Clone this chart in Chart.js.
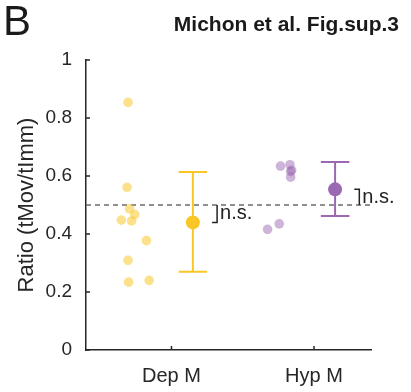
<!DOCTYPE html>
<html>
<head>
<meta charset="utf-8">
<script src="https://cdn.jsdelivr.net/npm/chart.js@4.4.1/dist/chart.umd.min.js"></script>
<style>
  body { margin: 0; background: #fff; }
  #wrap { width: 411px; height: 392px; }
</style>
</head>
<body>
<div id="wrap"><canvas id="myChart" width="411" height="392"></canvas></div>
<script>
// categories
var groups = ["Dep M", "Hyp M"];
var groupPos = [1, 2];

// single recordings (x = jitter around group position)
var depX = [0.695, 0.688, 0.706, 0.742, 0.648, 0.720, 0.824, 0.695, 0.699, 0.843];
var depY = [0.854, 0.561, 0.487, 0.467, 0.448, 0.445, 0.377, 0.309, 0.234, 0.240];
var hypX = [1.765, 1.831, 1.843, 1.836, 1.836, 1.674, 1.756];
var hypY = [0.634, 0.639, 0.620, 0.615, 0.596, 0.416, 0.435];

// group summary (mean +/- error)
var meanX = [1.15, 2.148];
var meanY = [0.440, 0.554];
var errLow = [0.270, 0.462];
var errHigh = [0.614, 0.648];

var refLine = 0.5;
var yTicks = [0, 0.2, 0.4, 0.6, 0.8, 1];
var sigText = ["n.s.", "n.s."];

var colDark = ["#F9C626", "#9B69B2"];
var colLight = ["rgba(250,200,45,0.55)", "rgba(155,105,178,0.5)"];

var capW = 0.1, brX = 0.17, brFoot = 0.035;

function pts(xs, ys) {
  return xs.map(function (x, i) { return { x: x, y: ys[i] }; });
}

function errBar(i) {
  var m = meanX[i];
  return [
    { x: m - capW, y: errHigh[i] }, { x: m + capW, y: errHigh[i] }, { x: m, y: null },
    { x: m, y: errHigh[i] }, { x: m, y: errLow[i] }, { x: m, y: null },
    { x: m - capW, y: errLow[i] }, { x: m + capW, y: errLow[i] }
  ];
}

function bracket(i) {
  var b = meanX[i] + brX;
  return [
    { x: b - brFoot, y: meanY[i] }, { x: b, y: meanY[i] }, { x: b, y: refLine }
  ];
}

var lineDs = function (data, color, width, dash) {
  return {
    type: "line", data: data, borderColor: color, borderWidth: width,
    borderDash: dash || [], pointRadius: 0, fill: false, spanGaps: false, tension: 0
  };
};

var extras = {
  id: "extras",
  afterDraw: function (chart) {
    var ctx = chart.ctx, xs = chart.scales.x, ys = chart.scales.y;
    var a = chart.chartArea;
    ctx.save();
    ctx.strokeStyle = "#262626";
    ctx.lineWidth = 1.5;
    ctx.beginPath();
    yTicks.forEach(function (v) {
      var p = ys.getPixelForValue(v);
      ctx.moveTo(a.left, p); ctx.lineTo(a.left + 4, p);
    });
    groupPos.forEach(function (v) {
      var p = xs.getPixelForValue(v);
      ctx.moveTo(p, a.bottom); ctx.lineTo(p, a.bottom - 4);
    });
    ctx.stroke();

    ctx.fillStyle = "#222";
    ctx.font = "20px 'Liberation Sans', Arial, sans-serif";
    ctx.textAlign = "left";
    ctx.textBaseline = "middle";
    sigText.forEach(function (t, i) {
      var px = xs.getPixelForValue(meanX[i] + brX) + 3;
      var py = (ys.getPixelForValue(meanY[i]) + ys.getPixelForValue(refLine)) / 2;
      ctx.fillText(t, px, py);
    });

    ctx.fillStyle = "#1a1a1a";
    ctx.font = "42px 'Liberation Sans', Arial, sans-serif";
    ctx.textBaseline = "alphabetic";
    ctx.fillText("B", 3, 35);
    ctx.font = "bold 21px 'Liberation Sans', Arial, sans-serif";
    ctx.textAlign = "right";
    ctx.fillText("Michon et al. Fig.sup.3", 399, 31);
    ctx.restore();
  }
};

new Chart("myChart", {
  type: "scatter",
  data: {
    datasets: [
      lineDs(errBar(0), colDark[0], 2),
      lineDs(errBar(1), colDark[1], 2),
      { data: [{ x: meanX[0], y: meanY[0] }], backgroundColor: colDark[0], borderWidth: 0, pointRadius: 7 },
      { data: [{ x: meanX[1], y: meanY[1] }], backgroundColor: colDark[1], borderWidth: 0, pointRadius: 7 },
      lineDs(bracket(0), "#222", 1.5),
      lineDs(bracket(1), "#222", 1.5),
      { data: pts(depX, depY), backgroundColor: colLight[0], borderWidth: 0, pointRadius: 4.8 },
      { data: pts(hypX, hypY), backgroundColor: colLight[1], borderWidth: 0, pointRadius: 4.8 },
      lineDs([{ x: 0.4, y: refLine }, { x: 2.4, y: refLine }], "#6b6b6b", 1.5, [5, 4])
    ]
  },
  options: {
    responsive: false,
    animation: false,
    layout: { padding: { left: 4, right: 40, top: 60, bottom: 0 } },
    plugins: { legend: { display: false }, tooltip: { enabled: false } },
    scales: {
      x: {
        type: "linear", min: 0.4, max: 2.4,
        grid: { display: false },
        border: { display: true, color: "#262626", width: 1.5 },
        afterBuildTicks: function (s) { s.ticks = groupPos.map(function (v) { return { value: v }; }); },
        afterFit: function (s) { s.height = 42; },
        ticks: {
          padding: 6, maxRotation: 0, color: "#262626",
          font: { family: "'Liberation Sans', Arial, sans-serif", size: 20 },
          callback: function (v) { return groups[groupPos.indexOf(v)]; }
        }
      },
      y: {
        min: 0, max: 1,
        grid: { display: false },
        border: { display: true, color: "#262626", width: 1.5 },
        afterBuildTicks: function (s) { s.ticks = yTicks.map(function (v) { return { value: v }; }); },
        afterFit: function (s) { s.width = 82; },
        ticks: {
          padding: 6, color: "#262626",
          font: { family: "'Liberation Sans', Arial, sans-serif", size: 19 },
          callback: function (v) { return String(v); }
        },
        title: {
          display: true, text: "Ratio (tMov/tImm)", color: "#262626",
          padding: { top: 10, bottom: 0 },
          font: { family: "'Liberation Sans', Arial, sans-serif", size: 22, weight: "normal" }
        }
      }
    }
  },
  plugins: [extras]
});
</script>
</body>
</html>
